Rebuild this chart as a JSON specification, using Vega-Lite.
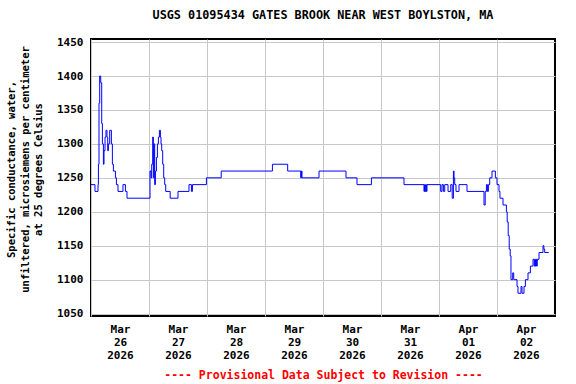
{
  "$schema": "https://vega.github.io/schema/vega-lite/v6.json",
  "width": 464,
  "height": 277,
  "autosize": "none",
  "padding": {"left": 91, "top": 39, "right": 21, "bottom": 68},
  "background": "white",
  "title": {
    "text": "USGS 01095434 GATES BROOK NEAR WEST BOYLSTON, MA",
    "font": "DejaVu Sans Mono",
    "fontSize": 11.8,
    "fontWeight": "bold",
    "anchor": "middle",
    "offset": 14,
    "color": "black"
  },
  "config": {
    "view": {"stroke": "black", "strokeWidth": 2},
    "axis": {
      "labelFont": "DejaVu Sans Mono",
      "labelFontWeight": "bold",
      "labelColor": "black",
      "titleFont": "DejaVu Sans Mono",
      "titleFontWeight": "bold",
      "titleColor": "black",
      "gridColor": "#c8c8c8",
      "gridWidth": 1,
      "gridOpacity": 1,
      "ticks": false,
      "domain": false
    }
  },
  "data": {
    "values": [
      {"t": "2026-03-26T00:00", "v": 1240},
      {"t": "2026-03-26T01:39", "v": 1230},
      {"t": "2026-03-26T02:54", "v": 1240},
      {"t": "2026-03-26T03:04", "v": 1270},
      {"t": "2026-03-26T03:19", "v": 1360},
      {"t": "2026-03-26T03:36", "v": 1400},
      {"t": "2026-03-26T04:01", "v": 1390},
      {"t": "2026-03-26T04:26", "v": 1330},
      {"t": "2026-03-26T04:43", "v": 1300},
      {"t": "2026-03-26T05:08", "v": 1270},
      {"t": "2026-03-26T05:23", "v": 1290},
      {"t": "2026-03-26T05:48", "v": 1310},
      {"t": "2026-03-26T06:12", "v": 1320},
      {"t": "2026-03-26T06:37", "v": 1310},
      {"t": "2026-03-26T06:55", "v": 1290},
      {"t": "2026-03-26T07:12", "v": 1300},
      {"t": "2026-03-26T07:44", "v": 1320},
      {"t": "2026-03-26T08:26", "v": 1300},
      {"t": "2026-03-26T08:51", "v": 1270},
      {"t": "2026-03-26T09:16", "v": 1260},
      {"t": "2026-03-26T10:06", "v": 1250},
      {"t": "2026-03-26T10:31", "v": 1240},
      {"t": "2026-03-26T11:10", "v": 1230},
      {"t": "2026-03-26T13:14", "v": 1240},
      {"t": "2026-03-26T14:14", "v": 1230},
      {"t": "2026-03-26T14:54", "v": 1220},
      {"t": "2026-03-27T00:25", "v": 1260},
      {"t": "2026-03-27T00:50", "v": 1250},
      {"t": "2026-03-27T01:07", "v": 1270},
      {"t": "2026-03-27T01:32", "v": 1310},
      {"t": "2026-03-27T01:49", "v": 1250},
      {"t": "2026-03-27T02:04", "v": 1300},
      {"t": "2026-03-27T02:21", "v": 1240},
      {"t": "2026-03-27T02:39", "v": 1260},
      {"t": "2026-03-27T03:04", "v": 1280},
      {"t": "2026-03-27T03:29", "v": 1300},
      {"t": "2026-03-27T03:53", "v": 1310},
      {"t": "2026-03-27T04:18", "v": 1320},
      {"t": "2026-03-27T04:43", "v": 1310},
      {"t": "2026-03-27T04:58", "v": 1300},
      {"t": "2026-03-27T05:15", "v": 1290},
      {"t": "2026-03-27T05:40", "v": 1270},
      {"t": "2026-03-27T06:05", "v": 1250},
      {"t": "2026-03-27T06:30", "v": 1240},
      {"t": "2026-03-27T06:55", "v": 1230},
      {"t": "2026-03-27T08:46", "v": 1220},
      {"t": "2026-03-27T12:00", "v": 1230},
      {"t": "2026-03-27T16:33", "v": 1240},
      {"t": "2026-03-27T17:33", "v": 1230},
      {"t": "2026-03-27T17:58", "v": 1240},
      {"t": "2026-03-27T23:45", "v": 1250},
      {"t": "2026-03-28T05:53", "v": 1260},
      {"t": "2026-03-29T03:04", "v": 1270},
      {"t": "2026-03-29T09:23", "v": 1260},
      {"t": "2026-03-29T14:46", "v": 1250},
      {"t": "2026-03-29T15:04", "v": 1260},
      {"t": "2026-03-29T15:19", "v": 1250},
      {"t": "2026-03-29T22:21", "v": 1260},
      {"t": "2026-03-30T09:31", "v": 1250},
      {"t": "2026-03-30T14:04", "v": 1240},
      {"t": "2026-03-30T20:02", "v": 1250},
      {"t": "2026-03-31T09:31", "v": 1240},
      {"t": "2026-03-31T17:47", "v": 1230},
      {"t": "2026-03-31T18:02", "v": 1240},
      {"t": "2026-03-31T18:17", "v": 1230},
      {"t": "2026-03-31T18:32", "v": 1240},
      {"t": "2026-03-31T18:47", "v": 1230},
      {"t": "2026-03-31T19:02", "v": 1240},
      {"t": "2026-04-01T00:42", "v": 1230},
      {"t": "2026-04-01T01:14", "v": 1240},
      {"t": "2026-04-01T01:49", "v": 1230},
      {"t": "2026-04-01T02:22", "v": 1240},
      {"t": "2026-04-01T03:44", "v": 1230},
      {"t": "2026-04-01T04:51", "v": 1240},
      {"t": "2026-04-01T05:28", "v": 1220},
      {"t": "2026-04-01T05:58", "v": 1260},
      {"t": "2026-04-01T06:13", "v": 1250},
      {"t": "2026-04-01T06:30", "v": 1240},
      {"t": "2026-04-01T07:02", "v": 1230},
      {"t": "2026-04-01T08:17", "v": 1240},
      {"t": "2026-04-01T11:35", "v": 1230},
      {"t": "2026-04-01T18:37", "v": 1210},
      {"t": "2026-04-01T19:07", "v": 1230},
      {"t": "2026-04-01T19:37", "v": 1240},
      {"t": "2026-04-01T20:02", "v": 1230},
      {"t": "2026-04-01T20:26", "v": 1240},
      {"t": "2026-04-01T20:59", "v": 1250},
      {"t": "2026-04-01T21:56", "v": 1260},
      {"t": "2026-04-01T23:20", "v": 1250},
      {"t": "2026-04-02T00:00", "v": 1240},
      {"t": "2026-04-02T00:50", "v": 1230},
      {"t": "2026-04-02T01:14", "v": 1220},
      {"t": "2026-04-02T02:29", "v": 1210},
      {"t": "2026-04-02T03:53", "v": 1200},
      {"t": "2026-04-02T04:13", "v": 1185},
      {"t": "2026-04-02T04:38", "v": 1165},
      {"t": "2026-04-02T05:03", "v": 1145},
      {"t": "2026-04-02T05:28", "v": 1135},
      {"t": "2026-04-02T05:47", "v": 1100},
      {"t": "2026-04-02T06:30", "v": 1110},
      {"t": "2026-04-02T06:55", "v": 1100},
      {"t": "2026-04-02T08:17", "v": 1090},
      {"t": "2026-04-02T08:41", "v": 1080},
      {"t": "2026-04-02T09:56", "v": 1090},
      {"t": "2026-04-02T10:21", "v": 1080},
      {"t": "2026-04-02T11:10", "v": 1090},
      {"t": "2026-04-02T11:45", "v": 1100},
      {"t": "2026-04-02T12:50", "v": 1110},
      {"t": "2026-04-02T13:49", "v": 1120},
      {"t": "2026-04-02T14:54", "v": 1130},
      {"t": "2026-04-02T15:24", "v": 1120},
      {"t": "2026-04-02T15:39", "v": 1130},
      {"t": "2026-04-02T15:54", "v": 1120},
      {"t": "2026-04-02T16:09", "v": 1130},
      {"t": "2026-04-02T16:24", "v": 1120},
      {"t": "2026-04-02T16:39", "v": 1130},
      {"t": "2026-04-02T17:23", "v": 1140},
      {"t": "2026-04-02T19:02", "v": 1150},
      {"t": "2026-04-02T19:24", "v": 1145},
      {"t": "2026-04-02T19:44", "v": 1140},
      {"t": "2026-04-02T21:24", "v": 1140}
    ]
  },
  "mark": {"type": "line", "interpolate": "step-after", "color": "#0000ff", "strokeWidth": 1, "clip": true},
  "encoding": {
    "x": {
      "field": "t",
      "type": "temporal",
      "scale": {
        "domain": [
          {"year": 2026, "month": 3, "date": 26},
          {"year": 2026, "month": 4, "date": 3}
        ],
        "nice": false
      },
      "axis": {
        "values": [
          {"year": 2026, "month": 3, "date": 26},
          {"year": 2026, "month": 3, "date": 27},
          {"year": 2026, "month": 3, "date": 28},
          {"year": 2026, "month": 3, "date": 29},
          {"year": 2026, "month": 3, "date": 30},
          {"year": 2026, "month": 3, "date": 31},
          {"year": 2026, "month": 4, "date": 1},
          {"year": 2026, "month": 4, "date": 2}
        ],
        "labelExpr": "[timeFormat(datum.value, '%b'), timeFormat(datum.value, '%d'), timeFormat(datum.value, '%Y')]",
        "labelOffset": 29,
        "labelPadding": 7,
        "labelFontSize": 11,
        "labelLineHeight": 13,
        "labelOverlap": false,
        "labelFlush": false,
        "labelBound": false,
        "grid": true,
        "title": "---- Provisional Data Subject to Revision ----",
        "titleColor": "#ff0000",
        "titleFontSize": 11.5,
        "titlePadding": 9
      }
    },
    "y": {
      "field": "v",
      "type": "quantitative",
      "scale": {"domain": [1046.5, 1454.5], "nice": false, "zero": false},
      "axis": {
        "values": [1050, 1100, 1150, 1200, 1250, 1300, 1350, 1400, 1450],
        "format": "d",
        "labelFontSize": 11,
        "labelPadding": 8,
        "grid": true,
        "title": ["Specific conductance, water,", "unfiltered, microsiemens per centimeter", "at 25 degrees Celsius"],
        "titleFontSize": 10.5,
        "titleLineHeight": 13.3,
        "titlePadding": 13,
        "titleY": 130
      }
    }
  }
}
